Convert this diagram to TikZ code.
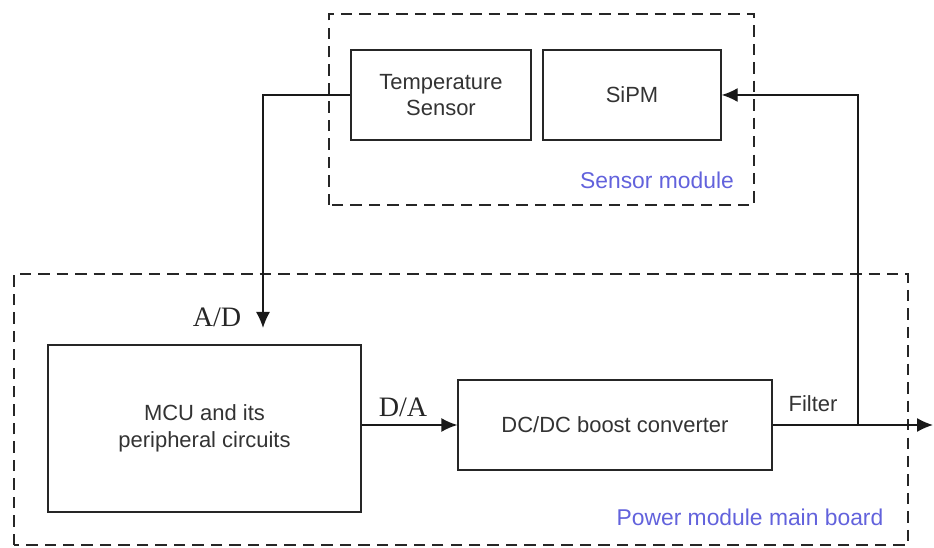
\documentclass[tikz,border=0pt]{standalone}
\usepackage{fontspec}
\setmainfont{Liberation Serif}
\setsansfont{Liberation Sans}
\usetikzlibrary{arrows.meta,positioning,calc}
\definecolor{modblue}{RGB}{98,98,220}
\tikzset{
  block/.style={draw=black!85, line width=0.8pt, minimum height=1.8cm, align=center,
    font=\sffamily\fontsize{12.5}{15}\selectfont, text=black!80},
  module/.style={draw=black!85, line width=1.1pt, dash pattern=on 6.5pt off 4pt},
  modlabel/.style={font=\sffamily\fontsize{13}{15}\selectfont, text=modblue},
  conv/.style={font=\fontsize{16}{18}\selectfont, text=black!85},
  arrow/.style={-{Latex[length=3.2mm,width=2.8mm]}, line width=0.8pt, black!90},
}
\begin{document}
\begin{tikzpicture}
\useasboundingbox (0,0) rectangle (18.68,10.94);

% Sensor module
\draw[module] (6.58,6.84) rectangle (15.08,10.66);
\node[block, minimum width=3.6cm] (temp) at (8.82,9.04) {Temperature\\Sensor};
\node[block, minimum width=3.56cm] (sipm) at (12.64,9.04) {SiPM};
\node[modlabel] (senslabel) at (13.14,7.34) {Sensor module};

% Power module main board
\draw[module] (0.28,0.04) rectangle (18.16,5.46);
\node[block, minimum width=6.26cm, minimum height=3.34cm] (mcu) at (4.09,2.37) {MCU and its\\peripheral circuits};
\node[block, minimum width=6.28cm] (dc) at (12.30,2.44) {DC/DC boost converter};
\node[modlabel] (powlabel) at (15.0,0.6) {Power module main board};

% Signal labels
\node[conv] (ad) at (4.34,4.6) {A/D};
\node[conv] (da) at (8.06,2.8) {D/A};
\node[block, draw=none, minimum height=0pt, inner sep=0pt] (filter) at (16.26,2.86) {Filter};

% Connectors
\coordinate (adin) at (5.26,4.38);
\coordinate (branch) at (17.16,2.44);
\coordinate (out) at (18.66,2.44);
\draw[arrow] (temp.west) -| (adin);
\draw[arrow] (mcu.east |- dc.west) -- (dc.west);
\draw[arrow] (dc.east) -- (out);
\draw[arrow] (branch) |- (sipm.east);

\end{tikzpicture}
\end{document}
